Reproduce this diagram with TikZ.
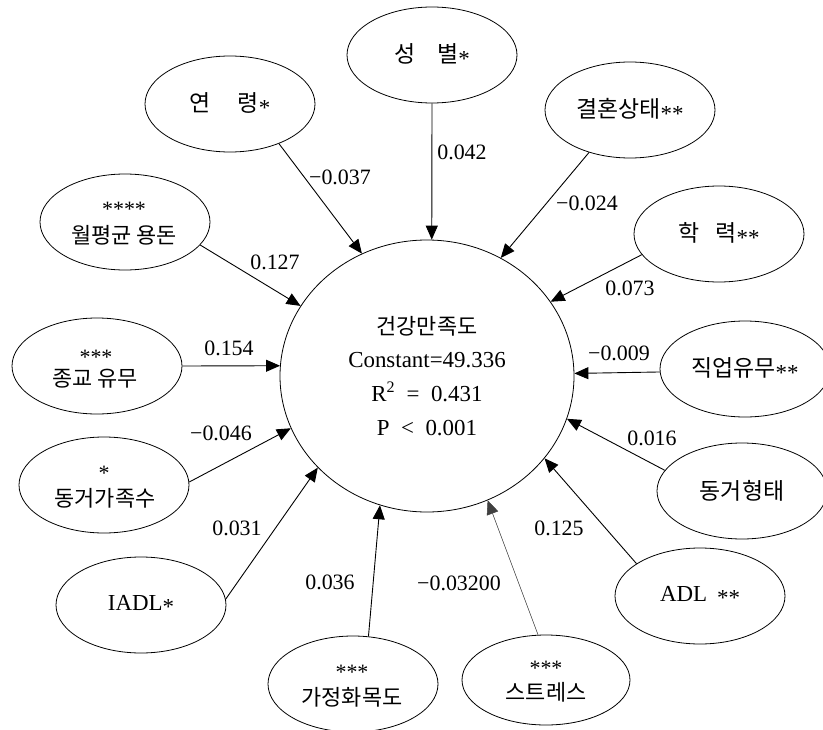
\documentclass[tikz,border=0pt]{standalone}
\usepackage{fontspec}
\setmainfont{Liberation Serif}
\newfontfamily\cjk{Noto Sans CJK KR}
\usetikzlibrary{shapes.geometric,arrows.meta}
\newcommand\lst[1]{\raisebox{-0.18em}{#1}}
\begin{document}
\begin{tikzpicture}[x=1bp,y=-1bp,
  var/.style={ellipse,draw,line width=0.8bp,minimum width=170bp,minimum height=96bp,inner sep=0pt,font=\fontsize{23}{24}\selectfont},
  lab/.style={font=\fontsize{22}{24}\selectfont,inner sep=0pt},
  arr/.style={-{Triangle[length=14bp,width=12bp]},line width=0.9bp},
  garr/.style={-{Triangle[length=14bp,width=12bp]},line width=0.5bp,draw=black!75,fill=black!75}]
\useasboundingbox (0,0) rectangle (823,730);
% central node
\node[ellipse,draw,line width=0.8bp,minimum width=294bp,minimum height=272bp,inner sep=0pt,align=center,font=\fontsize{23}{34}\selectfont] (c) at (427,376)
  {{\fontsize{22}{34}\selectfont\cjk 건강만족도}\\Constant=49.336\\R\textsuperscript{2}~~=~~0.431\\P~~<~~0.001};
% single-line variables
\node[var] (sex) at (432,55) {{\cjk 성}\hspace{22bp}{\cjk 별}\lst{*}};
\node[var] (age) at (230,104) {{\cjk 연}\hspace{27bp}{\cjk 령}\lst{*}};
\node[var] (mar) at (630,110) {{\cjk 결혼상태}\lst{**}};
\node[var] (edu) at (719,234) {{\cjk 학}\hspace{16bp}{\cjk 력}\lst{**}};
\node[var] (iadl) at (141,605) {IADL\lst{*}};
\node[var] (adl) at (700,596) {ADL\hspace{10bp}\lst{**}};
\node[var] (job) at (745,369) {{\cjk 직업유무}\lst{**}};
\node[var] (liv) at (742,491) {{\cjk 동거형태}};
% two-line variables (ellipse + text lines)
\node[var] (mon) at (125,222) {};
\node[lab] (mons) at (124,209) {****};
\node[lab] (mont) at (124,235) {{\cjk 월평균 용돈}};
\node[var] (rel) at (97,366) {};
\node[lab] (rels) at (96,357) {***};
\node[lab] (relt) at (95,379) {{\cjk 종교 유무}};
\node[var] (fam) at (104,485) {};
\node[lab] (fams) at (104,473) {*};
\node[lab] (famt) at (105,498) {{\cjk 동거가족수}};
\node[var] (harm) at (353,684) {};
\node[lab] (harms) at (352,672) {***};
\node[lab] (harmt) at (352,697) {{\cjk 가정화목도}};
\node[var,minimum width=168bp,minimum height=90bp] (str) at (546,680) {};
\node[lab] (strs) at (546,668) {***};
\node[lab] (strt) at (546,692) {{\cjk 스트레스}};
% connectors
\draw[arr] (sex.-90) -- (c.88);
\draw[arr] (age.-39) -- (c.118);
\draw[arr] (mar.-134) -- (c.58);
\draw[arr] (edu.-165) -- (c.31);
\draw[arr] (job.-178) -- (c.1.6);
\draw[arr] (liv.165) -- (c.-17);
\draw[arr] (adl.153) -- (c.-35.3);
\draw[garr] (str.100) -- (c.-64.3);
\draw[arr] (harm.72.6) -- (c.-110.3);
\draw[arr] (iadl.4.7) -- (c.-140.4);
\draw[arr] (fam.2) -- (c.-159.2);
\draw[arr] (rel.0) -- (c.176.5);
\draw[arr] (mon.-17) -- (c.151);
% coefficient labels
\node[lab] (l1) at (340,177) {−0.037};
\node[lab] (l2) at (462,152) {0.042};
\node[lab] (l3) at (587,203) {−0.024};
\node[lab] (l4) at (630,288) {0.073};
\node[lab] (l5) at (619,353) {−0.009};
\node[lab] (l6) at (652,438) {0.016};
\node[lab] (l7) at (559,528) {0.125};
\node[lab] (l8) at (459,583) {−0.03200};
\node[lab] (l9) at (330,582) {0.036};
\node[lab] (l10) at (237,528) {0.031};
\node[lab] (l11) at (221,433) {−0.046};
\node[lab] (l12) at (229,348) {0.154};
\node[lab] (l13) at (275,262) {0.127};
\end{tikzpicture}
\end{document}
